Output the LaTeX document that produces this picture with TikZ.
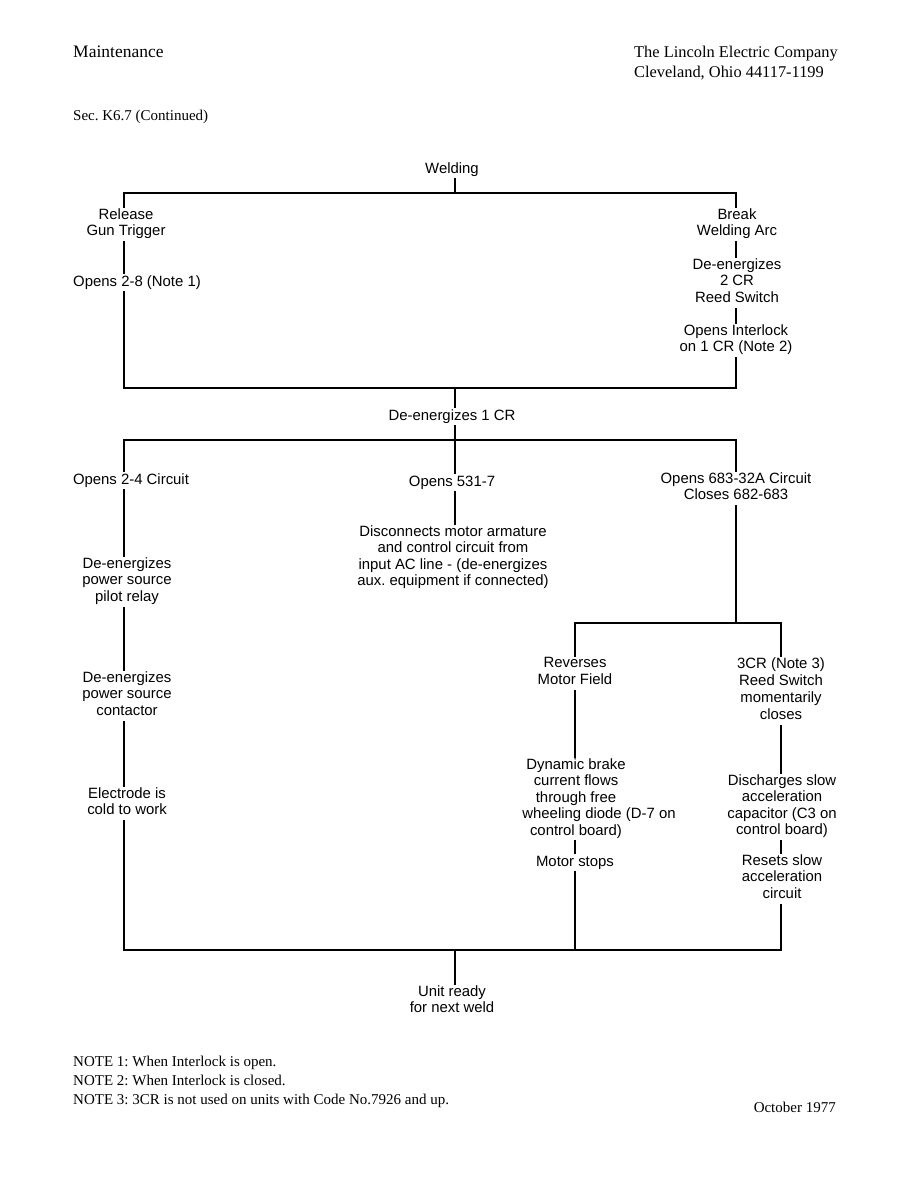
\documentclass[tikz,border=0pt]{standalone}
\usepackage{fontspec}
\setmainfont{Liberation Serif}
\newfontfamily\helvfont{Liberation Sans}
\frenchspacing
\begin{document}
\begin{tikzpicture}[x=1pt,y=-1pt,
  box/.style={anchor=north,align=center,inner sep=1pt,
    font=\helvfont\fontsize{14.9}{16.4}\selectfont\frenchspacing,
    execute at begin node=\strut, execute at end node=\strut},
  serif/.style={inner sep=0pt,font=\fontsize{15}{18}\selectfont\frenchspacing},
  hdr/.style={inner sep=0pt,font=\fontsize{16.4}{20}\selectfont\frenchspacing},
  ln/.style={line width=1.7pt,line join=miter,line cap=rect}]
\useasboundingbox (0,0) rectangle (918,1188);

% header and notes
\node[hdr,anchor=base west,font=\fontsize{17.5}{20}\selectfont] (hdrL) at (73,58) {Maintenance};
\node[hdr,anchor=base west] (hdrR1) at (634,58) {The Lincoln Electric Company};
\node[hdr,anchor=base west] (hdrR2) at (634,78) {Cleveland, Ohio 44117-1199};
\node[serif,anchor=base west] (sec) at (73,121) {Sec. K6.7 (Continued)};
\node[serif,anchor=base west] (n1) at (73,1066) {NOTE 1: When Interlock is open.};
\node[serif,anchor=base west] (n2) at (73,1085) {NOTE 2: When Interlock is closed.};
\node[serif,anchor=base west] (n3) at (73,1104) {NOTE 3: 3CR is not used on units with Code No.7926 and up.};
\node[serif,anchor=base east] (date) at (836,1112) {October 1977};

% bus coordinates
\coordinate (M1) at (455,193); \coordinate (L1) at (124,193); \coordinate (R1) at (736,193);
\coordinate (M2) at (455,388); \coordinate (L2) at (124,388); \coordinate (R2) at (736,388);
\coordinate (M3) at (455,440); \coordinate (L3) at (124,440); \coordinate (R3) at (736,440);
\coordinate (R4) at (736,623); \coordinate (A4) at (575,623); \coordinate (B4) at (781,623);
\coordinate (M5) at (455,950); \coordinate (L5) at (124,950); \coordinate (A5) at (575,950); \coordinate (B5) at (781,950);

% nodes
\node[box] (weld) at (452,160.5) {Welding};
\node[box] (rel) at (126,207.5) {Release\\Gun Trigger};
\node[box] (op28) at (137,273.5) {Opens 2-8 (Note 1)};
\node[box] (brk) at (737,207.5) {Break\\Welding Arc};
\node[box] (de2) at (737,257.5) {De-energizes\\2 CR\\Reed Switch};
\node[box] (oil) at (736,323.5) {Opens Interlock\\on 1 CR (Note 2)};
\node[box] (de1) at (452,407.5) {De-energizes 1 CR};
\node[box] (op24) at (131,471.5) {Opens 2-4 Circuit};
\node[box] (op531) at (452,473.5) {Opens 531-7};
\node[box] (op683) at (736,471.5) {Opens 683-32A Circuit\\Closes 682-683};
\node[box] (dpr) at (127,556.5) {De-energizes\\power source\\pilot relay};
\node[box] (disc) at (453,524.5) {Disconnects motor armature\\and control circuit from\\input AC line - (de-energizes\\aux. equipment if connected)};
\node[box] (dcon) at (127,670.5) {De-energizes\\power source\\contactor};
\node[box] (elec) at (127,786.5) {Electrode is\\cold to work};
\node[box] (rev) at (575,656.5) {Reverses\\Motor Field};
\node[box,font=\helvfont\fontsize{14.9}{16.9}\selectfont] (cr3) at (781,656.5) {3CR (Note 3)\\Reed Switch\\momentarily\\closes};
\node[box] (dyn) at (576,757.5) {Dynamic brake\\current flows\\through free\\\hspace*{46pt}wheeling diode (D-7 on\\control board)};
\node[box] (stop) at (575,853.5) {Motor stops};
\node[box] (dis) at (782,773.5) {Discharges slow\\acceleration\\capacitor (C3 on\\control board)};
\node[box] (res) at (782,853.5) {Resets slow\\acceleration\\circuit};
\node[box] (unit) at (452,984.5) {Unit ready\\for next weld};

% connectors
\draw[ln] (weld.south -| M1) -- (M1);
\draw[ln] (L1) -- (R1);
\draw[ln] (L1) -- (rel.north -| L1);
\draw[ln] (rel.south -| L1) -- (op28.north -| L1);
\draw[ln] (op28.south -| L1) -- (L2) -- (R2);
\draw[ln] (R1) -- (brk.north -| R1);
\draw[ln] (brk.south -| R1) -- (de2.north -| R1);
\draw[ln] (de2.south -| R1) -- (oil.north -| R1);
\draw[ln] (oil.south -| R1) -- (R2);
\draw[ln] (M2) -- (de1.north -| M2);
\draw[ln] (de1.south -| M2) -- (M3);
\draw[ln] (L3) -- (R3);
\draw[ln] (L3) -- (op24.north -| L3);
\draw[ln] (op24.south -| L3) -- (dpr.north -| L3);
\draw[ln] (dpr.south -| L3) -- (dcon.north -| L3);
\draw[ln] (dcon.south -| L3) -- (elec.north -| L3);
\draw[ln] (elec.south -| L3) -- (L5) -- (B5);
\draw[ln] (M3) -- (op531.north -| M3);
\draw[ln] (op531.south -| M3) -- (disc.north -| M3);
\draw[ln] (R3) -- (op683.north -| R3);
\draw[ln] (op683.south -| R3) -- (R4);
\draw[ln] (A4) -- (B4);
\draw[ln] (A4) -- (rev.north -| A4);
\draw[ln] (rev.south -| A4) -- (dyn.north -| A4);
\draw[ln] (dyn.south -| A4) -- (stop.north -| A4);
\draw[ln] (stop.south -| A4) -- (A5);
\draw[ln] (B4) -- (cr3.north -| B4);
\draw[ln] (cr3.south -| B4) -- (dis.north -| B4);
\draw[ln] (dis.south -| B4) -- (res.north -| B4);
\draw[ln] (res.south -| B4) -- (B5);
\draw[ln] (M5) -- (unit.north -| M5);
\end{tikzpicture}
\end{document}
